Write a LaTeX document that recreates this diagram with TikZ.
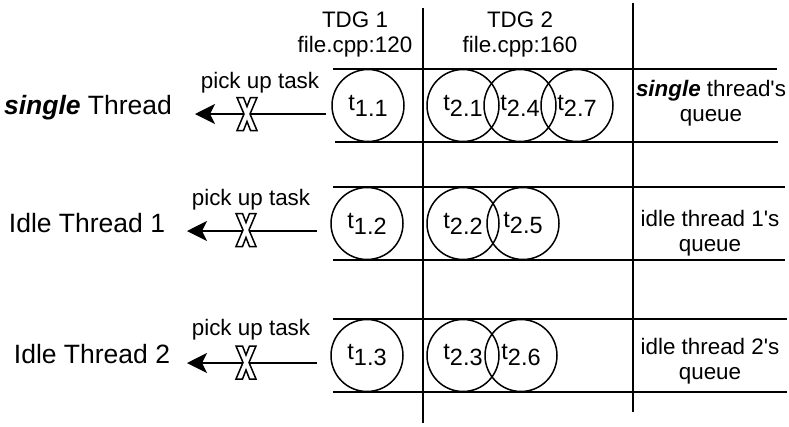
\documentclass[tikz,border=0pt]{standalone}
\usepackage{fontspec}
\setmainfont{Liberation Sans}[Ligatures=TeXOff]
\usetikzlibrary{arrows.meta}
\tikzset{
  grid/.style={line width=1.6pt},
  task/.style={circle, draw, line width=1.5pt, minimum size=72pt, inner sep=0pt, font=\fontsize{23.5}{26}\selectfont},
  txt/.style={font=\fontsize{22.4}{25}\selectfont, align=center, inner sep=0pt},
  bigtxt/.style={font=\fontsize{26.5}{30}\selectfont, inner sep=0pt, anchor=base},
  pick/.style={line width=1.5pt, -{Stealth[length=20pt,width=20pt,inset=5pt]}},
  xmark/.pic={\draw[fill=white, line width=1.5pt, line join=miter]
     (-10,-16.5) -- (-3.5,-16.5) -- (0,-7.5) -- (3.5,-16.5) -- (10,-16.5) -- (3,0)
     -- (10,16.5) -- (3.5,16.5) -- (0,7.5) -- (-3.5,16.5) -- (-10,16.5) -- (-3,0) -- cycle;}
}
\newcommand{\tsub}[2]{t\raisebox{-6pt}{#1.#2}}
\begin{document}
\begin{tikzpicture}[x=1pt, y=-1pt]
\useasboundingbox (0,0) rectangle (789,426);
% grid
\draw[grid] (423,8) -- (423,423);
\draw[grid] (633,3) -- (633,412);
\draw[grid] (333,69) -- (777,69);
\draw[grid] (335,142) -- (778,142);
\draw[grid] (333,187) -- (785,187);
\draw[grid] (333,260) -- (785,260);
\draw[grid] (333,319) -- (787,319);
\draw[grid] (333,392) -- (787,392);
% headers
\node[txt] (h1) at (355,35) {TDG 1\\file.cpp:120};
\node[txt] (h2) at (520,35) {TDG 2\\file.cpp:160};
% row 1
\node[task] (t11) at (368,105.5) {\tsub{1}{1}};
\node[task] (t21) at (463,105.5) {\tsub{2}{1}};
\node[task] (t24) at (520,105.5) {\tsub{2}{4}};
\node[task] (t27) at (577,105.5) {\tsub{2}{7}};
% row 2
\node[task] (t12) at (367,223.5) {\tsub{1}{2}};
\node[task] (t22) at (463,223.5) {\tsub{2}{2}};
\node[task] (t25) at (523,223.5) {\tsub{2}{5}};
% row 3
\node[task] (t13) at (367,355.5) {\tsub{1}{3}};
\node[task] (t23) at (463,355.5) {\tsub{2}{3}};
\node[task] (t26) at (521,355.5) {\tsub{2}{6}};
% right column
\node[txt] (q1) at (711,103) {\textbf{\textit{single}} thread's\\queue};
\node[txt] (q2) at (710,233) {idle thread 1's\\queue};
\node[txt] (q3) at (710,361) {idle thread 2's\\queue};
% left labels
\node[bigtxt] (th1) at (88,114.5) {\textbf{\textit{single}} Thread};
\node[bigtxt] (th2) at (87,232) {Idle Thread 1};
\node[bigtxt] (th3) at (92,363.5) {Idle Thread 2};
% pick up task labels
\node[txt, anchor=base] (p1) at (260,88) {pick up task};
\node[txt, anchor=base] (p2) at (251,205) {pick up task};
\node[txt, anchor=base] (p3) at (251,335) {pick up task};
% arrows
\coordinate (a1s) at (326,114);
\coordinate (a1e) at (195,114);
\coordinate (a2s) at (317,231);
\coordinate (a2e) at (187,231);
\coordinate (a3s) at (317,363);
\coordinate (a3e) at (187,363);
\draw[pick] (a1s) -- (a1e);
\draw[pick] (a2s) -- (a2e);
\draw[pick] (a3s) -- (a3e);
\pic at (247,114) {xmark};
\pic at (246,230) {xmark};
\pic at (246,362.5) {xmark};
\end{tikzpicture}
\end{document}
